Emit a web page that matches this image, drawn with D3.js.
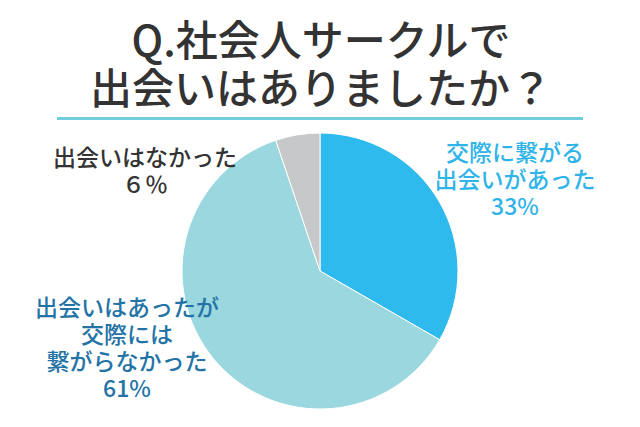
<!DOCTYPE html>
<html><head><meta charset="utf-8">
<script src="https://cdn.jsdelivr.net/npm/d3@7"></script>
<style>html,body{margin:0;padding:0;background:#fff;}svg{display:block;}</style>
</head><body>
<svg id="c" width="640" height="427"></svg>
<script>
const titleLines = ["Q.社会人サークルで", "出会いはありましたか？"];
const categories = ["交際に繋がる出会いがあった", "出会いはあったが交際には繋がらなかった", "出会いはなかった"];
const sliceValues = [33.3, 61.5, 5.2];
const percentLabels = ["33%", "61%", "６％"];
const labelLines = [
  ["交際に繋がる", "出会いがあった", "33%"],
  ["出会いはあったが", "交際には", "繋がらなかった", "61%"],
  ["出会いはなかった", "６％"]
];
const colors = ["#2FBAEE", "#9AD7DE", "#C7C8CA"];
const labelColors = ["#2FB4E9", "#2473A6", "#333333"];
const labelPos = [[515, 153], [127, 308], [145, 158]];

const svg = d3.select("#c");
const font = "'Noto Sans CJK JP', sans-serif";

svg.append("g").selectAll("text").data(titleLines).join("text")
  .attr("x", 321).attr("y", (d, i) => 56 + i * 48)
  .attr("text-anchor", "middle")
  .attr("font-family", font).attr("font-size", 42).attr("font-weight", 500)
  .attr("fill", "#333333").text(d => d);

svg.append("rect").attr("x", 57).attr("y", 117).attr("width", 526).attr("height", 3).attr("fill", "#70CDDE");

const cx = 320, cy = 271, r = 138;
const pie = d3.pie().sort(null).value(d => d);
const arc = d3.arc().innerRadius(0).outerRadius(r);
svg.append("g").attr("transform", `translate(${cx},${cy})`)
  .selectAll("path").data(pie(sliceValues)).join("path")
  .attr("d", arc).attr("fill", (d, i) => colors[i])
  .attr("stroke", "#fff").attr("stroke-width", 1);

const lg = svg.append("g");
labelLines.forEach((lines, k) => {
  lg.append("g").selectAll("text").data(lines).join("text")
    .attr("x", labelPos[k][0]).attr("y", (d, i) => labelPos[k][1] + 8 + i * 27)
    .attr("text-anchor", "middle")
    .attr("font-family", font).attr("font-size", 23).attr("font-weight", 500)
    .attr("fill", labelColors[k]).text(d => d);
});
</script>
</body></html>
